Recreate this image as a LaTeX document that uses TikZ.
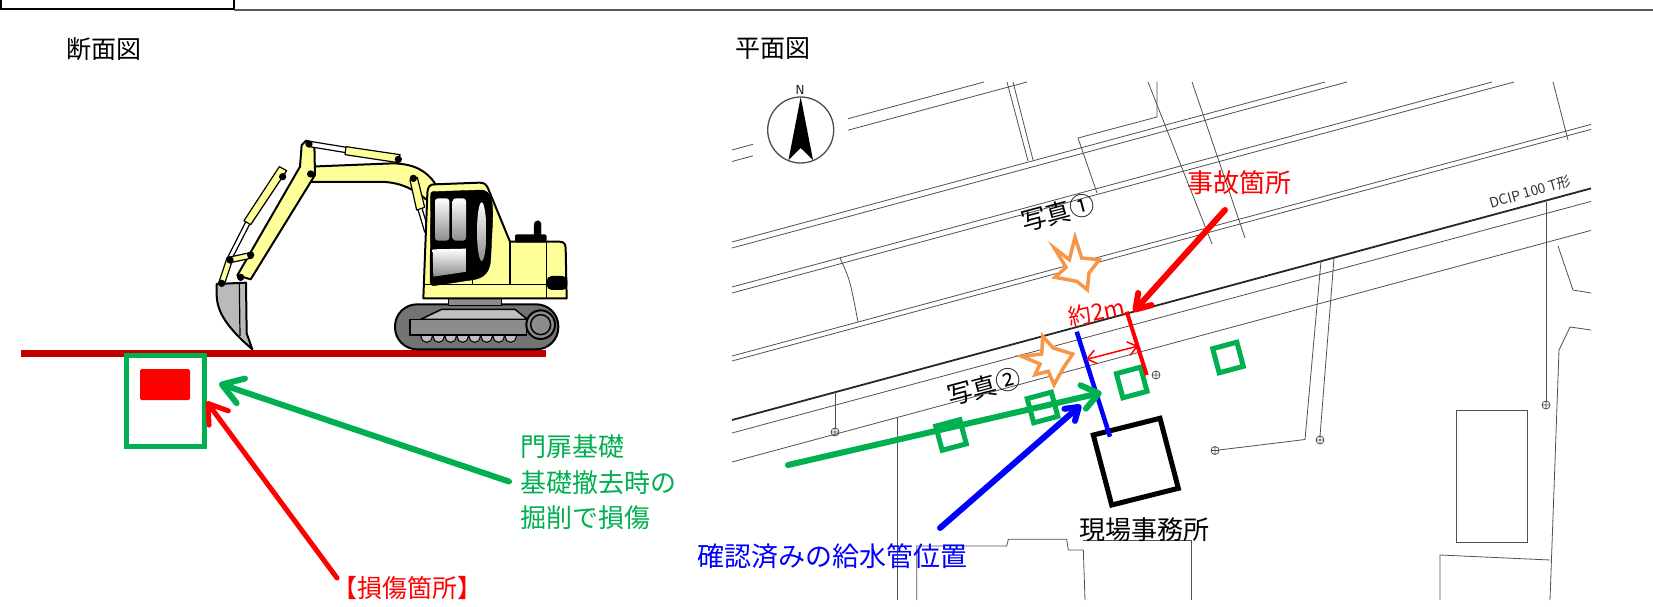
\documentclass[tikz,border=0pt]{standalone}
\usepackage{fontspec}
\usetikzlibrary{arrows.meta}
\newfontfamily\jpfont{Noto Sans CJK JP}
\definecolor{mred}{HTML}{FF0000}
\definecolor{groundred}{HTML}{C00000}
\definecolor{mgreen}{HTML}{00B050}
\definecolor{mblue}{HTML}{0000FF}
\definecolor{morange}{HTML}{F79646}
\definecolor{cabyellow}{HTML}{FFFF99}
\definecolor{steelgray}{HTML}{8C8C8C}
\definecolor{plangray}{HTML}{505050}
\newcommand\fsz[1]{\fontsize{#1pt}{#1pt}\selectfont}

\begin{document}
\begin{tikzpicture}[x=1pt,y=-1pt,
  lbl/.style={font=\jpfont, inner sep=0pt},
  mapline/.style={draw=plangray, line width=0.8pt},
  roadline/.style={draw=black!85, line width=1.8pt},
  outline/.style={draw=black, line width=2pt, line join=round},
  cyl/.style={draw=black, line width=1.2pt, line join=round},
  gbox/.style={draw=mgreen, line width=5pt, minimum size=25pt, inner sep=0pt, rotate=15},
  burst/.style={draw=morange, fill=white, line width=3.5pt, line join=miter},
  fatarrow/.style={line width=#1, line cap=round}
]
\useasboundingbox (0,0) rectangle (1653,607);

% ---------- header ----------
\draw[line width=1.5pt] (1,-5) rectangle (234,9);
\draw[line width=1.2pt, draw=black!65] (234,10) -- (1653,10);
\node[lbl, font=\jpfont\fsz{25}] (secttl) at (104,49) {断面図};
\node[lbl, font=\jpfont\fsz{25}] (planttl) at (773,49) {平面図};

% ---------- cross section ----------
\draw[groundred, line width=6.5pt] (21,353.5) -- (546,353.5);
\node[draw=mgreen, line width=5pt, minimum width=78pt, minimum height=91pt, inner sep=0pt] (gate) at (165,400.5) {};
\node[fill=mred, rounded corners=1.5pt, minimum width=50pt, minimum height=31pt, inner sep=0pt] (dmg) at (165,384.5) {};

\node[lbl, anchor=west, text=mgreen, font=\jpfont\fsz{26}] (gtxt1) at (520,447) {門扉基礎};
\node[lbl, anchor=west, text=mgreen, font=\jpfont\fsz{26}] (gtxt2) at (520,482.5) {基礎撤去時の};
\node[lbl, anchor=west, text=mgreen, font=\jpfont\fsz{26}] (gtxt3) at (520,517.5) {掘削で損傷};
\node[lbl, text=mred, font=\jpfont\fsz{25}] (dmgtxt) at (407,588) {【損傷箇所】};

\coordinate (gtail) at (509,481.5);
\coordinate (ghead) at (219,383.5);
\coordinate (rtail) at (337,578);
\coordinate (rhead) at (206.5,401.5);
\draw[mgreen, fatarrow=6pt, -{Straight Barb[length=20pt,width=26pt,round]}] (gtail) -- (ghead);
\draw[mred, fatarrow=5pt, -{Straight Barb[length=18pt,width=24pt,round]}] (rtail) -- (rhead);

% ---------- excavator ----------
\begin{scope}[shift={(180,120)}, scale=1/3]
  % crawler
  \draw[outline, fill=black!55, rounded corners=22pt] (645,553) rectangle (1135,688);
  \foreach \rx in {740,776,...,1016} \draw[line width=1pt, fill=black!25] (\rx,650) circle[radius=17];
  \draw[line width=1.5pt, fill=black!25] (722,598) -- (785,568) -- (1005,568) -- (1042,598) -- cycle;
  \draw[line width=1.5pt, fill=steelgray] (690,598) rectangle (1040,645);
  \draw[line width=2pt, fill=steelgray] (1082,614) circle[radius=43];
  \draw[line width=1.5pt] (1082,614) circle[radius=30];
  \draw[line width=1.5pt, fill=steelgray] (805,533) rectangle (965,557);
  % boom
  \draw[outline, fill=cabyellow] (388,140) -- (640,130) .. controls (700,132) and (740,150) .. (768,195)
     -- (752,250) .. controls (720,222) and (680,190) .. (615,186) -- (392,186) -- cycle;
  % boom cylinder
  \draw[cyl, fill=white] (712,262) -- (724,258) -- (746,332) -- (734,336) -- cycle;
  \draw[cyl, fill=cabyellow] (690,180) -- (712,172) -- (734,262) -- (710,270) -- cycle;
  % upper body
  \draw[outline, fill=cabyellow] (730,535) -- (742,222) .. controls (743,200) and (748,193) .. (765,193)
     -- (898,188) .. controls (912,188) and (918,192) .. (924,205) -- (990,365) -- (1138,365)
     .. controls (1152,365) and (1157,372) .. (1157,385) -- (1160,535) -- cycle;
  \draw[line width=1.5pt] (990,365) -- (990,493) (1100,365) -- (1100,535) (730,493) -- (1160,493) (878,462) -- (878,493);
  % cab glazing
  \draw[fill=black] (758,215) -- (905,210) .. controls (935,212) and (940,250) .. (938,300)
     -- (932,420) .. controls (928,470) and (900,478) .. (860,482) -- (762,497)
     .. controls (752,497) and (750,490) .. (750,480) -- (752,228) .. controls (752,218) .. (758,215) -- cycle;
  \shade[top color=white, bottom color=black!45, rounded corners=3pt] (765,235) rectangle (808,362);
  \shade[top color=white, bottom color=black!45, rounded corners=3pt] (818,235) rectangle (858,362);
  \shade[top color=white, bottom color=black!45] (758,388) -- (858,386) -- (860,455) -- (760,470) -- cycle;
  \shade[top color=white, bottom color=black!45] (905,335) ellipse[x radius=14, y radius=88];
  % engine
  \draw[fill=black] (1062,345) -- (1062,318) .. controls (1064,305) .. (1076,302) -- (1083,310) -- (1083,345) -- cycle;
  \fill[black, rounded corners=2pt] (1005,343) rectangle (1100,367);
  \fill[black, rounded corners=5pt] (1100,468) rectangle (1162,510);
  % stick
  \draw[outline, fill=cabyellow] (365,75) -- (378,62) -- (403,70) -- (405,165) -- (212,478) -- (172,466) -- (360,140) -- cycle;
  % bucket cylinder and links
  \draw[cyl, fill=white] (200,300) -- (212,307) -- (153,422) -- (141,416) -- cycle;
  \draw[cyl, fill=cabyellow] (298,140) -- (320,152) -- (212,314) -- (192,302) -- cycle;
  \draw[cyl, fill=cabyellow] (145,412) -- (210,398) -- (216,414) -- (151,428) -- cycle;
  \draw[cyl, fill=cabyellow] (117,486) -- (141,414) -- (157,421) -- (133,494) -- cycle;
  % bucket
  \draw[outline, fill=black!27] (110,492) -- (198,488) -- (200,640) -- (217,688) -- (188,662)
     .. controls (135,610) and (108,570) .. (110,515) -- cycle;
  \draw[line width=1.2pt] (178,490) -- (180,648);
  % arm cylinder
  \draw[cyl, fill=white] (390,64) -- (500,82) -- (498,98) -- (388,80) -- cycle;
  \draw[cyl, fill=cabyellow] (498,80) -- (660,104) -- (655,128) -- (495,104) -- cycle;
  % pins
  \foreach \px/\py in {387/72, 392/162, 308/170, 655/118, 700/175, 150/420, 212/405, 125/490, 182/472}
    \fill (\px,\py) circle[radius=11];
\end{scope}

% ---------- plan: base drawing ----------
% lines parallel to the road
\draw[mapline] (732,150) -- (753,144.3) (848,118.7) -- (984,82);
\draw[mapline] (732,161.5) -- (753,155.8) (848,130.2) -- (1027,82);
\draw[mapline] (732,242) -- (1325,82);
\draw[mapline] (732,248) -- (1347,82);
\draw[mapline] (732,287) -- (1492,82);
\draw[mapline] (732,293) -- (1514,82);
\draw[mapline] (732,356) -- (1591,124.4);
\draw[mapline] (732,361) -- (1591,129.4);
\draw[roadline] (732,420) -- (1591,188.4);
\draw[mapline] (732,433) -- (1591,201.4);
\draw[mapline] (732,462) -- (1591,230.4);
% building and lot outlines
\draw[mapline] (1007,82) -- (1028,161) (1013,82) -- (1033,160);
\draw[mapline] (1157,82) -- (1157,117) -- (1078,138) -- (1097,193);
\draw[mapline] (1148,82) -- (1212,244) (1192,82) -- (1245,238);
\draw[mapline] (1553,82) -- (1568,140);
\draw[mapline] (840,258) .. controls (850,280) .. (858,322);
\draw[mapline] (1558,246) -- (1573,290) -- (1591,293) (1591,330) -- (1570,327) -- (1559,350) -- (1550,600);
\draw[mapline] (1546,202) -- (1546,401);
\draw[mapline] (1321,261) -- (1305,439.5) -- (1219,450);
\draw[mapline] (1334,258) -- (1320,436);
\draw[mapline] (835,392) -- (835,428);
\draw[mapline] (897,417) -- (897,600);
\draw[mapline] (916.7,600) -- (916.7,546) -- (1006.7,546) -- (1008.3,539.3) -- (1066.7,539.3) -- (1068.3,550) -- (1083.3,550) -- (1085,600);
\draw[mapline] (1083.3,540) -- (1191.7,540) -- (1191.7,600);
\draw[mapline] (1456.7,410.7) rectangle (1527.3,542.7);
\draw[mapline] (1440,600) -- (1440,555) -- (1550,560);
% valves
\foreach \vx/\vy in {835/432, 1156/375, 1546/405, 1215/450.5, 1320/440}
  \draw[mapline] (\vx,\vy) circle[radius=4] (\vx-4,\vy) -- (\vx+4,\vy) (\vx,\vy-4) -- (\vx,\vy+4);
\node[lbl, text=black!80, font=\jpfont\fsz{14}, rotate=16] (dcip) at (1530,192) {DCIP 100 T形};

% north arrow
\draw[draw=black!70, line width=1.3pt] (800.7,130) circle[radius=33];
\fill[black] (800.7,97) -- (813,160) -- (800.7,148) -- (788.5,160) -- cycle;
\node[lbl, font=\sffamily\fsz{13}] (north) at (800,90) {N};

% ---------- plan: annotations ----------
\node[gbox] (gb1) at (951,435) {};
\node[gbox] (gb2) at (1042.5,407.5) {};
\node[gbox] (gb3) at (1131.7,382.5) {};
\node[gbox] (gb4) at (1228,357.5) {};
\draw[black, line width=5pt, line join=miter] (1093.3,435) -- (1160,418.3) -- (1178.3,488.3) -- (1111.7,505) -- cycle;
\node[lbl, font=\jpfont\fsz{26}] (office) at (1144,530) {現場事務所};

\coordinate (pipetop) at (1076.7,331.7);
\coordinate (pipebot) at (1110,436.7);
\coordinate (hittop) at (1126.7,311.7);
\coordinate (hitbot) at (1146.7,375);
\draw[mblue, line width=4.5pt] (pipetop) -- (pipebot);
\draw[mred, line width=4pt] (hittop) -- (hitbot);
\coordinate (dimL) at (1086,359.5);
\coordinate (dimR) at (1138.3,346);
\draw[mred, line width=1.5pt, {Straight Barb[length=9pt,width=14pt]}-{Straight Barb[length=9pt,width=14pt]}] (dimL) -- (dimR);
\node[lbl, text=mred, font=\jpfont\fsz{23}, rotate=12] (dist) at (1097,312) {約2m};

\node[lbl, text=mred, font=\jpfont\fsz{26}] (acc) at (1239,182.5) {事故箇所};
\coordinate (acctail) at (1225,210);
\coordinate (acchead) at (1133.5,311.7);
\draw[mred, fatarrow=6pt, -{Straight Barb[length=14pt,width=18pt,round]}] (acctail) -- (acchead);

% photo viewpoints
\draw[burst] (1075,237.3) -- (1081.7,258) -- (1099.3,259.7) -- (1089,273) -- (1087.3,289.7)
   -- (1076.7,281.3) -- (1055,277.3) -- (1066,267.3) -- (1054.3,248) -- (1069.3,259.7) -- cycle;
\draw[burst] (1042.7,336.3) -- (1053.3,348) -- (1072.7,354) -- (1063.3,368) -- (1054,384.7)
   -- (1048.3,371.3) -- (1035,374.7) -- (1040,364) -- (1021.7,356.3) -- (1041.7,354) -- cycle;
\node[lbl, font=\jpfont\fsz{25}, rotate=15] (ph1) at (1058,213) {写真①};
\node[lbl, font=\jpfont\fsz{25}, rotate=15] (ph2) at (984,387) {写真②};

% gate foundation row and water pipe pointer
\coordinate (rowtail) at (788,465);
\coordinate (rowhead) at (1101.7,392.7);
\draw[mgreen, fatarrow=6pt, -{Straight Barb[length=16pt,width=24pt,round]}] (rowtail) -- (rowhead);
\node[lbl, text=mblue, font=\jpfont\fsz{27}] (pipetxt) at (832,556) {確認済みの給水管位置};
\coordinate (bluetail) at (940,528);
\coordinate (bluehead) at (1081,405);
\draw[mblue, fatarrow=6pt, -{Straight Barb[length=12pt,width=16pt,round]}] (bluetail) -- (bluehead);
\end{tikzpicture}
\end{document}
